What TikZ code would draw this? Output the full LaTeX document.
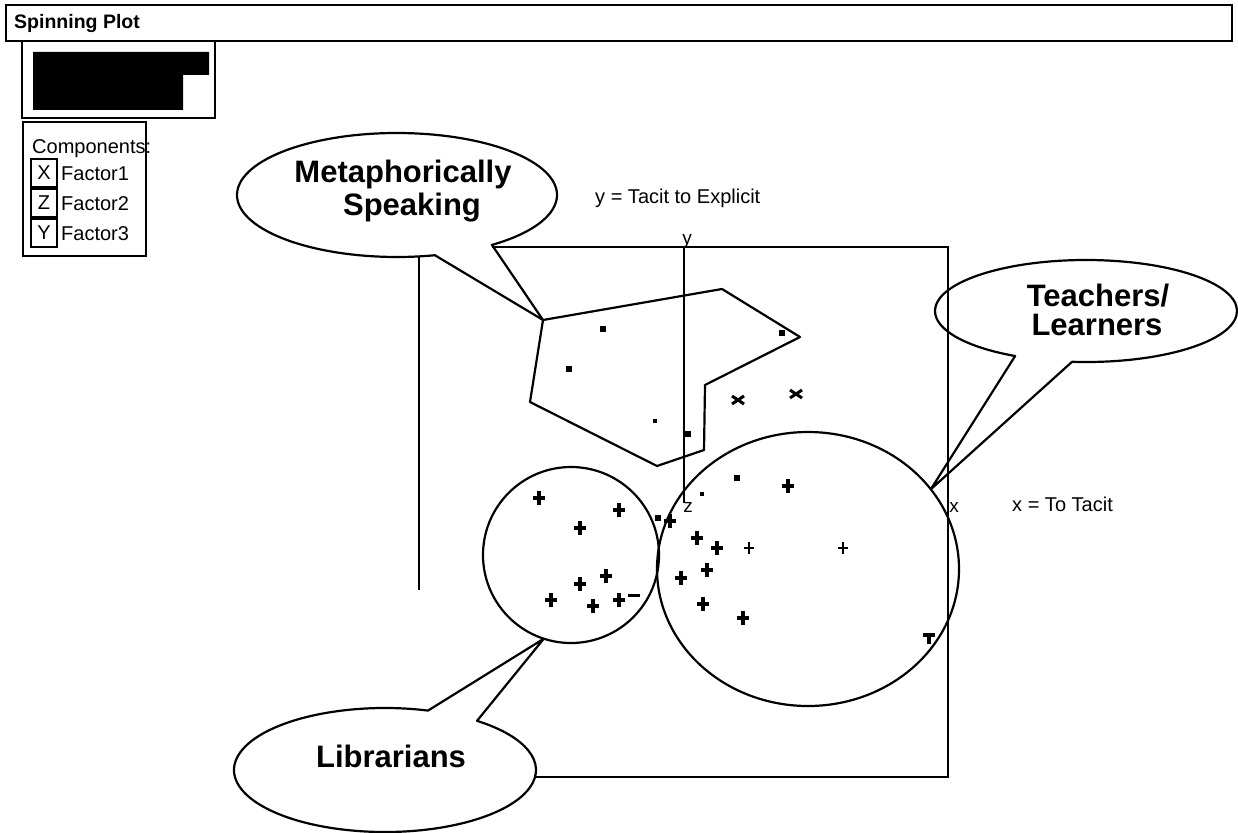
\documentclass[tikz,border=0pt]{standalone}
\usepackage{fontspec}
\setmainfont{Liberation Sans}
\usetikzlibrary{calc,shapes.geometric}
\begin{document}
\begin{tikzpicture}[x=1pt,y=1pt,
  outline/.style={line width=2.2pt, line join=round},
  frameline/.style={line width=1.6pt},
  panel/.style={line width=1.4pt},
  lbl/.style={font=\fontsize{20}{24}\selectfont, inner sep=0pt, anchor=base west},
  axlbl/.style={font=\fontsize{19}{22}\selectfont, inner sep=0pt, anchor=base},
  big/.style={font=\fontsize{31}{36}\selectfont\bfseries, inner sep=0pt, anchor=base},
  keybox/.style={draw, panel, inner sep=0pt, minimum width=26pt, minimum height=28pt,
    font=\fontsize{20}{24}\selectfont},
  sqm/.style={fill=black, inner sep=0pt, minimum size=6pt, rectangle},
  sqs/.style={fill=black, inner sep=0pt, minimum size=4pt, rectangle},
  plusm/.pic={\draw[line width=3.6pt] (-6,0)--(6,0) (0,-7)--(0,7);},
  plust/.pic={\draw[line width=2pt] (-5,0)--(5,0) (0,-6)--(0,6);},
  teem/.pic={\draw[line width=3.6pt] (-6,3)--(6,3) (0,3)--(0,-6);},
  minusm/.pic={\draw[line width=3pt] (-6,0)--(6,0);},
  xm/.pic={\draw[line width=3pt] (-6,4)--(6,-4) (-6,-4)--(6,4);}
]
\useasboundingbox (0,0) rectangle (1238,-832);

% title bar
\draw[line width=1.8pt] (6,-5) rectangle (1232,-41);
\node[anchor=base west, inner sep=0pt, font=\fontsize{19.5}{22}\selectfont\bfseries] (title) at (14,-29) {Spinning Plot};

% masked legend panel
\draw[panel] (22,-41) -- (22,-118) -- (215,-118) -- (215,-41);
\fill (33,-52) -- (209,-52) -- (209,-75) -- (183,-75) -- (183,-110) -- (33,-110) -- cycle;

% components legend
\draw[panel] (23,-122) rectangle (146,-256);
\node[lbl] (comp) at (32,-153) {Components:};
\node[keybox] (kx) at (44,-173) {X};
\node[keybox] (kz) at (44,-203) {Z};
\node[keybox] (ky) at (44,-233) {Y};
\node[lbl] (f1) at (61,-180) {Factor1};
\node[lbl] (f2) at (61,-210) {Factor2};
\node[lbl] (f3) at (61,-240) {Factor3};

% axis captions
\node[lbl] (ycap) at (595,-203) {y = Tacit to Explicit};
\node[lbl] (xcap) at (1012,-511) {x = To Tacit};

% plot frame and y axis
\draw[frameline] (492,-247) -- (948,-247) -- (948,-777) -- (535,-777);
\draw[frameline] (419,-256.4) -- (419,-590);
\draw[frameline] (684,-247) -- (684,-503);
\node[axlbl] (ylab) at (687,-244) {y};
\node[axlbl] (zlab) at (688,-512) {z};
\node[axlbl] (xlab) at (954,-512) {x};

% cluster outline around the upper points
\coordinate (pv) at (543,-320);
\draw[outline] (pv) -- (722,-289) -- (800,-337) -- (705,-385) -- (704,-450)
  -- (657,-466) -- (530,-402) -- cycle;

% cluster circles
\node[draw, outline, circle, minimum size=176pt, inner sep=0pt, outer sep=0pt] (lib) at (571,-555) {};
\node[draw, outline, ellipse, minimum width=302pt, minimum height=274pt, inner sep=0pt, outer sep=0pt] (teach) at (808,-569) {};

% callouts
\coordinate (mc) at (397,-195);
\draw[outline] (mc) ++(-53.6:160pt and 62pt)
  arc[start angle=-53.6, end angle=283.7, x radius=160pt, y radius=62pt] -- (pv) -- cycle;
\node[big] (m1) at (403,-182) {Metaphorically};
\node[big] (m2) at (412,-215) {Speaking};

\coordinate (tc) at (1086,-311);
\draw[outline] (tc) ++(-95.3:151pt and 51pt)
  arc[start angle=-95.3, end angle=242, x radius=151pt, y radius=51pt] -- (teach.33.6) -- cycle;
\node[big] (t1) at (1098,-306) {Teachers/};
\node[big] (t2) at (1097,-335) {Learners};

\coordinate (lc) at (385,-770);
\draw[outline] (lc) ++(73.45:151pt and 62pt)
  arc[start angle=73.45, end angle=412.46, x radius=151pt, y radius=62pt] -- (lib.-108.4) -- cycle;
\node[big] (l1) at (391,-767) {Librarians};

% points of the upper cluster
\node[sqm] at (603,-329) {};
\node[sqm] at (569,-369) {};
\node[sqm] at (782,-333) {};
\node[sqs] at (655,-421) {};
\node[sqm] at (688,-434) {};
\pic at (738,-400) {xm};
\pic at (796,-394) {xm};

% points of the left cluster
\pic at (539,-498) {plusm};
\pic at (619,-510) {plusm};
\pic at (580,-528) {plusm};
\pic at (606,-576) {plusm};
\pic at (580,-584) {plusm};
\pic at (551,-600) {plusm};
\pic at (593,-606) {plusm};
\pic at (619,-600) {plusm};
\pic at (634,-595) {minusm};

% points between the clusters
\node[sqm] at (658,-518) {};
\pic at (670,-521) {plusm};

% points of the right cluster
\node[sqm] at (737,-478) {};
\node[sqs] at (702,-494) {};
\pic at (788,-486) {plusm};
\pic at (697,-538) {plusm};
\pic at (717,-548) {plusm};
\pic at (749,-548) {plust};
\pic at (843,-548) {plust};
\pic at (681,-578) {plusm};
\pic at (707,-570) {plusm};
\pic at (703,-604) {plusm};
\pic at (743,-618) {plusm};
\pic at (929,-638) {teem};
\end{tikzpicture}
\end{document}
